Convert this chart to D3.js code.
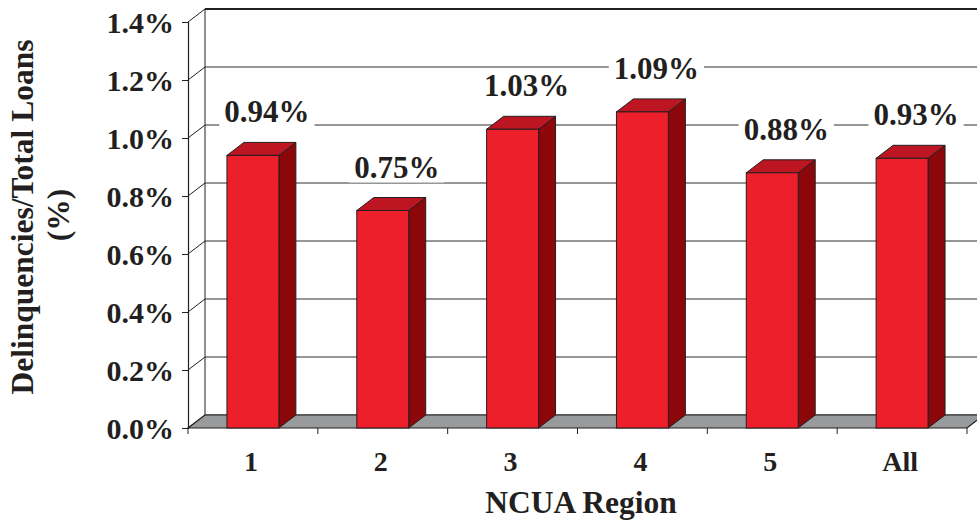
<!DOCTYPE html>
<html>
<head>
<meta charset="utf-8">
<script src="https://cdn.jsdelivr.net/npm/d3@7"></script>
<style>
  html, body { margin: 0; padding: 0; background: #fff; }
  svg { display: block; }
  text { font-family: "Liberation Serif", "Times New Roman", serif; font-weight: bold; fill: #231f20; }
</style>
</head>
<body>
<svg id="chart" width="977" height="524"></svg>
<script>
// Delinquency ratio by NCUA region
const regions = ["1", "2", "3", "4", "5", "All"];
const delinquency = [0.0094, 0.0075, 0.0103, 0.0109, 0.0088, 0.0093];
const yTicks = [0, 0.002, 0.004, 0.006, 0.008, 0.010, 0.012, 0.014];
const xTitle = "NCUA Region";
const yTitle = ["Delinquencies/Total Loans", "(%)"];

const W = 977, H = 524;
const plotLeft = 188, plotRight = 967, plotBottom = 428, plotTop = 22;
const depthX = 17, depthY = 13;   // oblique offset of the 3-D back plane

const svg = d3.select("#chart");

const x = d3.scaleBand().domain(regions).range([plotLeft, plotRight])
  .paddingInner(0.6).paddingOuter(0.3);
const y = d3.scaleLinear().domain([0, 0.014]).range([plotBottom, plotTop]);
const step = x.step();
const slotStart = c => x(c) - step * 0.3;

const fmt = d3.format(".1%");
const fmtVal = d3.format(".2%");

// back wall gridlines and left-wall diagonals
const grid = svg.append("g");
grid.selectAll("line.h").data(yTicks).join("line")
  .attr("x1", plotLeft + depthX).attr("x2", W + 5)
  .attr("y1", d => y(d) - depthY).attr("y2", d => y(d) - depthY)
  .attr("stroke", d => d === 0.014 ? "#231f20" : "#2e2e2e")
  .attr("stroke-width", d => d === 0.014 ? 2 : 1);
grid.selectAll("line.d").data(yTicks).join("line")
  .attr("x1", plotLeft).attr("x2", plotLeft + depthX)
  .attr("y1", d => y(d)).attr("y2", d => y(d) - depthY)
  .attr("stroke", "#231f20").attr("stroke-width", 1);
grid.append("line")
  .attr("x1", plotLeft + depthX).attr("x2", plotLeft + depthX)
  .attr("y1", y(0.014) - depthY).attr("y2", y(0) - depthY)
  .attr("stroke", "#231f20").attr("stroke-width", 1);

// floor
svg.append("polygon")
  .attr("points", [
    [plotLeft, y(0)], [plotRight, y(0)],
    [plotRight + depthX, y(0) - depthY], [plotLeft + depthX, y(0) - depthY]
  ].map(p => p.join(",")).join(" "))
  .attr("fill", "#999a9c").attr("stroke", "#231f20").attr("stroke-width", 1.2);

// value labels on white backgrounds
const labels = svg.append("g");
regions.forEach((c, i) => {
  const v = delinquency[i];
  const cx = x(c) + x.bandwidth() / 2 + 14;
  const base = y(v) - depthY - 20;
  const g = labels.append("g");
  const t = g.append("text")
    .attr("x", cx).attr("y", base)
    .attr("text-anchor", "middle")
    .attr("font-size", 31)
    .text(fmtVal(v));
  const bb = t.node().getBBox();
  g.insert("rect", "text")
    .attr("x", bb.x - 5).attr("y", bb.y + 2)
    .attr("width", bb.width + 10).attr("height", bb.height - 4)
    .attr("fill", "#fff");
});

// 3-D bars
const bars = svg.append("g").selectAll("g").data(regions).join("g");
bars.each(function(c, i) {
  const g = d3.select(this);
  const v = delinquency[i];
  const x0 = x(c), x1 = x(c) + x.bandwidth();
  const yt = y(v), yb = y(0);
  // side face
  g.append("polygon")
    .attr("points", [[x1, yt], [x1 + depthX, yt - depthY], [x1 + depthX, yb - depthY], [x1, yb]]
      .map(p => p.join(",")).join(" "))
    .attr("fill", "#8c0709").attr("stroke", "#231f20").attr("stroke-width", 1);
  // top face
  g.append("polygon")
    .attr("points", [[x0, yt], [x0 + depthX, yt - depthY], [x1 + depthX, yt - depthY], [x1, yt]]
      .map(p => p.join(",")).join(" "))
    .attr("fill", "#bd1622").attr("stroke", "#231f20").attr("stroke-width", 1);
  // front face
  g.append("rect")
    .attr("x", x0).attr("y", yt).attr("width", x1 - x0).attr("height", yb - yt)
    .attr("fill", "#ed1f2a").attr("stroke", "#231f20").attr("stroke-width", 1);
});

// y axis
const yAxis = svg.append("g").attr("transform", `translate(${plotLeft},0)`)
  .call(d3.axisLeft(y).tickValues(yTicks).tickFormat(fmt).tickSize(6).tickPadding(8));
yAxis.select(".domain").attr("stroke", "#231f20").attr("stroke-width", 1.2);
yAxis.selectAll(".tick line").attr("stroke", "#231f20");
yAxis.selectAll("text").attr("font-size", 30).attr("fill", "#231f20")
  .attr("font-family", "Liberation Serif, serif").attr("font-weight", "bold")
  .attr("dy", "0.35em");

// x axis: ticks at slot boundaries, labels at slot centres
const bounds = regions.map(slotStart).concat([plotRight]);
svg.append("g").selectAll("line").data(bounds).join("line")
  .attr("x1", d => d).attr("x2", d => d)
  .attr("y1", plotBottom).attr("y2", plotBottom + 6)
  .attr("stroke", "#231f20").attr("stroke-width", 1);
svg.append("g").selectAll("text").data(regions).join("text")
  .attr("x", c => slotStart(c) + step / 2 - 2)
  .attr("y", 471)
  .attr("text-anchor", "middle")
  .attr("font-size", 28)
  .text(c => c);

// axis titles
svg.append("text")
  .attr("x", 581).attr("y", 513)
  .attr("text-anchor", "middle")
  .attr("font-size", 31.5)
  .text(xTitle);
svg.append("text")
  .attr("transform", "translate(33,217) rotate(-90)")
  .attr("text-anchor", "middle")
  .attr("font-size", 31.5)
  .text(yTitle[0]);
svg.append("text")
  .attr("transform", "translate(69,215) rotate(-90)")
  .attr("text-anchor", "middle")
  .attr("font-size", 31.5)
  .text(yTitle[1]);
</script>
</body>
</html>
